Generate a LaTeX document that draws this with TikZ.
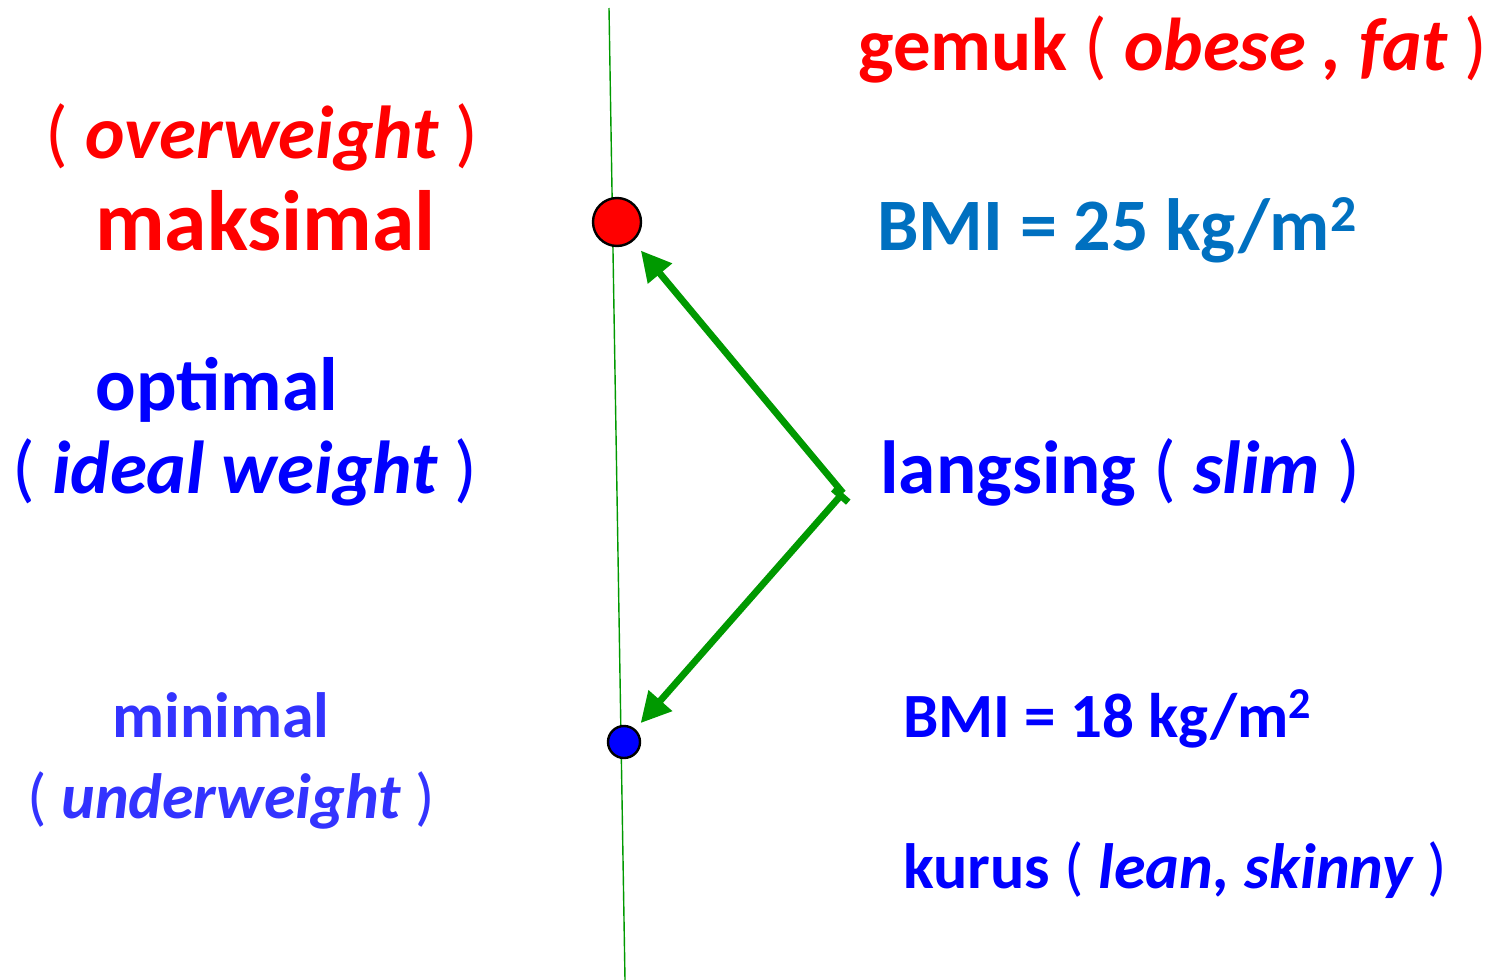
\documentclass[tikz,border=0pt]{standalone}
\usepackage{fontspec}
\setmainfont{Carlito}
\usetikzlibrary{arrows.meta}
\definecolor{redtxt}{RGB}{255,0,0}
\definecolor{bluetxt}{RGB}{0,0,255}
\definecolor{bmiblue}{RGB}{0,112,192}
\definecolor{paleblue}{RGB}{51,51,255}
\definecolor{linegreen}{RGB}{0,153,0}
\newcommand{\pa}[1]{{\mdseries\upshape #1}}
\tikzset{
  lbl/.style={anchor=base west, inner sep=0pt, font=\bfseries},
  dot/.style={circle, draw=black, line width=1.2pt, inner sep=0pt},
  pointer/.style={draw=linegreen, line width=3.4pt, -{Triangle[length=15pt,width=15pt]}}
}
\begin{document}
\begin{tikzpicture}[x=0.5pt,y=-0.5pt]
\useasboundingbox (0,0) rectangle (1489,980);
% axis line
\coordinate (top) at (609,8);
\coordinate (bot) at (625,980);
\draw[linegreen, line width=0.7pt] (top) -- (bot);
\node[dot, fill=redtxt, minimum size=24pt] (maxdot) at (617,222) {};
\node[dot, fill=bluetxt, minimum size=16pt] (mindot) at (624,742) {};
% labels, left side
\node[lbl, text=redtxt, font=\bfseries\fontsize{37.5}{42}\selectfont] (over) at (45,158) {\pa{(} \itshape overweight \pa{)}};
\node[lbl, text=redtxt, font=\bfseries\fontsize{42.8}{48}\selectfont] (maks) at (95,250) {maksimal};
\node[lbl, text=bluetxt, font=\bfseries\fontsize{37.8}{42}\selectfont] (opt) at (95,410) {optimal};
\node[lbl, text=bluetxt, font=\bfseries\fontsize{37.5}{42}\selectfont] (ideal) at (12,493) {\pa{(} \itshape ideal weight \pa{)}};
\node[lbl, text=paleblue, font=\bfseries\fontsize{32}{36}\selectfont] (min) at (112,737) {minimal};
\node[lbl, text=paleblue, font=\bfseries\fontsize{32}{36}\selectfont] (under) at (27,818) {\pa{(} \itshape underweight \pa{)}};
% labels, right side
\node[lbl, text=redtxt, font=\bfseries\fontsize{37.4}{42}\selectfont] (gemuk) at (858,70) {gemuk \pa{(} \itshape obese , fat \pa{)}};
\node[lbl, text=bmiblue, font=\bfseries\fontsize{37}{42}\selectfont] (bmimax) at (877,250) {BMI = 25 kg/m\textsuperscript{2}};
\node[lbl, text=bluetxt, font=\bfseries\fontsize{37.6}{42}\selectfont] (slim) at (880,493) {langsing \pa{(} \itshape slim \pa{)}};
\node[lbl, text=bluetxt, font=\bfseries\fontsize{31.5}{36}\selectfont] (bmimin) at (903,737) {BMI = 18 kg/m\textsuperscript{2}};
\node[lbl, text=bluetxt, font=\bfseries\fontsize{32}{36}\selectfont] (kurus) at (903,888) {kurus \pa{(} \itshape lean, skinny \pa{)}};
% arrows
\coordinate (fork) at (843,493);
\draw[pointer, shorten >=6pt] (fork) -- (maxdot);
\draw[pointer, shorten >=4pt, {Bar[width=10pt]}-{Triangle[length=15pt,width=15pt]}] (fork) -- (mindot);
\end{tikzpicture}
\end{document}
